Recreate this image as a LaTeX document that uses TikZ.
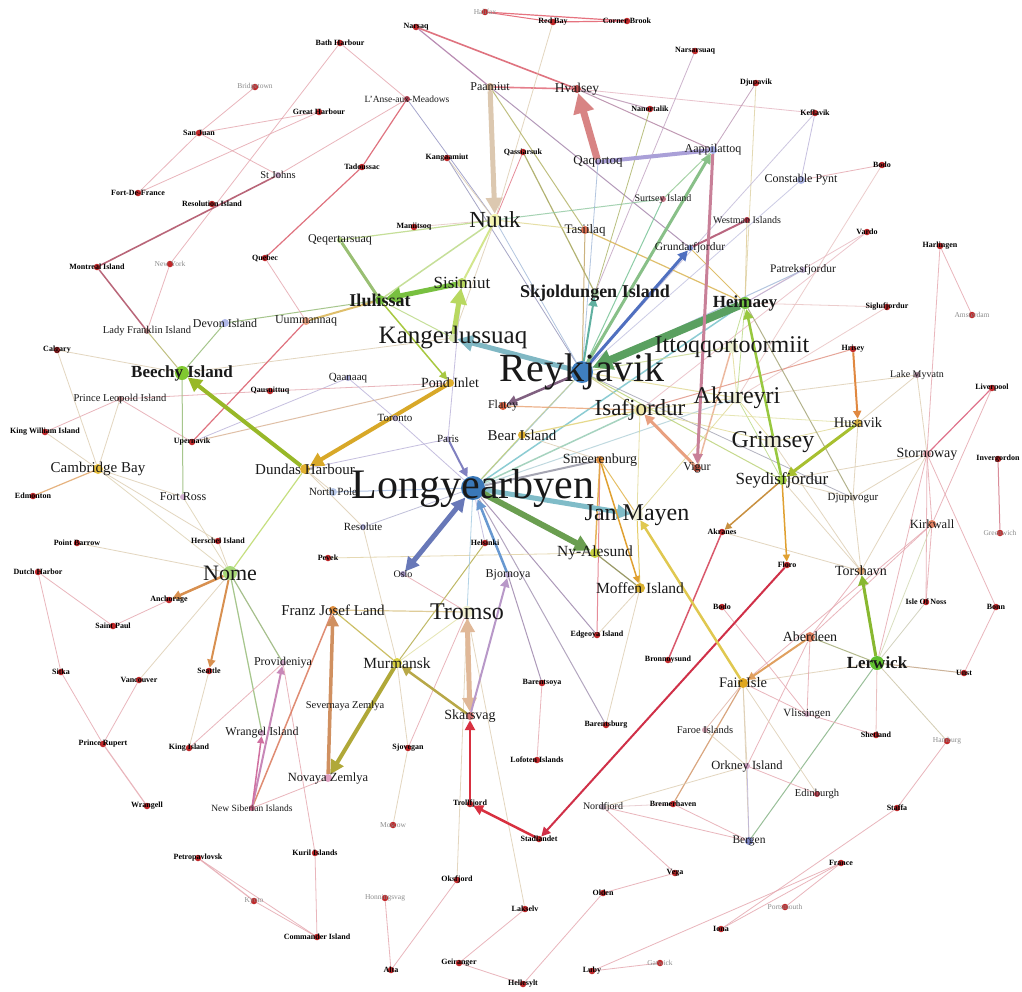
\documentclass[tikz,border=0pt]{standalone}
\usepackage{fontspec}
\setmainfont{Liberation Serif}
\usetikzlibrary{arrows.meta}
\pgfdeclarelayer{bg}
\pgfsetlayers{bg,main}
\tikzset{
 dot/.style={circle,inner sep=0pt,minimum size=#1},
 fs/.style={font=\fontsize{#1}{#1}\selectfont,inner sep=0pt,text=black!90},
 fb/.style={font=\fontsize{#1}{#1}\selectfont\bfseries,inner sep=0pt,text=black!90},
 sl/.style={font=\fontsize{8}{8}\selectfont\bfseries,inner sep=0pt},
 gl/.style={font=\fontsize{7.5}{8}\selectfont,text=black!45,inner sep=0pt},
}
\definecolor{rd}{HTML}{C0282A}
\newcommand\pl[7]{\definecolor{nc}{HTML}{#5}\node[dot=#4pt,fill=nc,label={[#6]center:#7}] (#1) at (#2,#3) {};}
\newcommand\sr[4]{\node[dot=6.5pt,fill=rd,label={[sl]center:#4}] (#1) at (#2,#3) {};}
\newcommand\sg[4]{\node[dot=6.5pt,fill=rd,label={[gl]center:#4}] (#1) at (#2,#3) {};}
\newcommand\edg[4]{\definecolor{ec}{HTML}{#3}\draw[ec,line width=#4pt,opacity=.8] (#1)--(#2);}
\newcommand\arw[5]{\definecolor{ec}{HTML}{#3}\draw[ec,line width=#4pt,-{Triangle[length=#5pt,width=#5pt]}] (#1)--(#2);}
\newcommand\arwb[5]{\definecolor{ec}{HTML}{#3}\draw[ec,line width=#4pt,{Triangle[length=#5pt,width=#5pt]}-{Triangle[length=#5pt,width=#5pt]}] (#1)--(#2);}
\begin{document}
\begin{tikzpicture}[x=1pt,y=-1pt]
\useasboundingbox (0,0) rectangle (1022,991);
% ---------------- nodes
\pl{reyk}{582}{372}{22}{3F7FBF}{fs=40}{Reykjavik}
\pl{lyb}{473}{488}{24}{3A78B8}{fs=42}{Longyearbyen}
\pl{kanger}{453}{338}{8}{D8E8B0}{fs=25}{Kangerlussuaq}
\pl{itto}{732}{347}{12}{ECF0D0}{fs=24}{Ittoqqortoormiit}
\pl{akur}{737}{398}{12}{F0F0D8}{fs=24}{Akureyri}
\pl{grims}{773}{442}{12}{F0F0D8}{fs=24}{Grimsey}
\pl{isaf}{640}{410}{12}{F0E8A8}{fs=23}{Isafjordur}
\pl{janm}{637}{515}{12}{F0F0D8}{fs=24}{Jan Mayen}
\pl{tromso}{467}{612}{12}{F0F0D0}{fs=24}{Tromso}
\pl{nuuk}{495}{220}{12}{F4F4B0}{fs=23}{Nuuk}
\pl{nome}{230}{573}{14}{A8D878}{fs=22}{Nome}
\pl{skjold}{595}{293}{8}{A8C8A0}{fb=18}{Skjoldungen Island}
\pl{ilul}{380}{300}{10}{78C040}{fb=18}{Ilulissat}
\pl{sisim}{462}{283}{10}{B8D860}{fs=17}{Sisimiut}
\pl{heim}{745}{303}{12}{70C040}{fb=17}{Heimaey}
\pl{beechy}{182}{373}{14}{80C830}{fb=17}{Beechy Island}
\pl{lerw}{877}{663}{14}{60C030}{fb=17}{Lerwick}
\pl{seyd}{782}{480}{10}{A0D040}{fs=17}{Seydisfjordur}
\pl{cambay}{98}{469}{10}{E8C040}{fs=15}{Cambridge Bay}
\pl{dundas}{305}{469}{10}{E0B030}{fs=15}{Dundas Harbour}
\pl{franz}{333}{610}{8}{E09040}{fs=15}{Franz Josef Land}
\pl{murm}{397}{663}{10}{D8D040}{fs=15.5}{Murmansk}
\pl{nyal}{595}{553}{10}{C8D040}{fs=15.5}{Ny-Alesund}
\pl{moffen}{640}{588}{10}{D8B030}{fs=15.5}{Moffen Island}
\pl{bear}{522}{435}{8}{E0B030}{fs=15}{Bear Island}
\pl{smeer}{600}{460}{8}{E09040}{fs=14}{Smeerenburg}
\pl{pond}{450}{383}{8}{E0B030}{fs=14}{Pond Inlet}
\pl{skars}{470}{716}{8}{D07070}{fs=14}{Skarsvag}
\pl{husa}{858}{423}{8}{D8B040}{fs=14.5}{Husavik}
\pl{storn}{927}{454}{8}{E0A0A8}{fs=14}{Stornoway}
\pl{torsh}{861}{571}{8}{D8A070}{fs=14}{Torshavn}
\pl{aberd}{810}{637}{10}{E08060}{fs=14}{Aberdeen}
\pl{fair}{743}{683}{10}{E0A820}{fs=14.5}{Fair Isle}
\pl{qaqortoq}{598}{162}{6}{B0A0D8}{fs=13}{Qaqortoq}
\pl{hvalsey}{577}{89}{8}{C05050}{fs=13.5}{Hvalsey}
\pl{tasiilaq}{585}{230}{8}{E07050}{fs=13}{Tasiilaq}
\pl{kirkw}{932}{524}{8}{E08060}{fs=12.5}{Kirkwall}
\pl{orkney}{747}{766}{6}{D0A0C0}{fs=12.5}{Orkney Island}
\pl{novaya}{328}{778}{8}{E0A0C0}{fs=12.5}{Novaya Zemlya}
\pl{paamiut}{490}{87}{8}{D0B090}{fs=12}{Paamiut}
\pl{aappi}{713}{150}{8}{A0A8E0}{fs=12}{Aappilattoq}
\pl{constable}{801}{180}{8}{B0B8E8}{fs=12}{Constable Pynt}
\pl{qeqert}{340}{240}{6}{B0D080}{fs=12}{Qeqertarsuaq}
\pl{devon}{225}{323}{8}{B0B8E8}{fs=12}{Devon Island}
\pl{uumm}{306}{321}{8}{E8A080}{fs=12}{Uummannaq}
\pl{provid}{283}{663}{6}{D0A8C8}{fs=12}{Provideniya}
\pl{wrangel}{262}{733}{6}{D0A8C8}{fs=12}{Wrangel Island}
\pl{bjorn}{508}{575}{6}{C0B0D8}{fs=12}{Bjornoya}
\pl{fortross}{183}{497}{6}{D0B0D0}{fs=12}{Fort Ross}
\pl{vigur}{697}{468}{8}{B05040}{fs=12}{Vigur}
\pl{flatey}{503}{406}{8}{D86040}{fs=12}{Flatey}
\pl{grund}{690}{248}{6}{8090D0}{fs=11.5}{Grundarfjordur}
\pl{patr}{803}{270}{6}{C0B0D0}{fs=11.5}{Patreksfjordur}
\pl{bergen}{749}{841}{8}{8088C8}{fs=11.5}{Bergen}
\pl{resolute}{363}{527}{6}{B0B0D8}{fs=11}{Resolute}
\pl{northpole}{333}{492}{8}{B8C8E8}{fs=11}{North Pole}
\pl{qaanaaq}{348}{378}{6}{A8A8D0}{fs=11}{Qaanaaq}
\pl{toronto}{395}{418}{6}{B0A0C8}{fs=11}{Toronto}
\pl{paris}{448}{439}{6}{C0B8E0}{fs=11}{Paris}
\pl{djupi}{853}{498}{6}{C8C0B0}{fs=11}{Djupivogur}
\pl{vliss}{807}{714}{6}{D0A8C0}{fs=11}{Vlissingen}
\pl{stjohns}{278}{175}{6}{C0A0C0}{fs=10.5}{St Johns}
\pl{ladyf}{147}{331}{6}{B08080}{fs=10.5}{Lady Franklin Island}
\pl{prinl}{120}{399}{6}{B08080}{fs=10.5}{Prince Leopold Island}
\pl{severn}{345}{706}{2}{E0D0D0}{fs=10.5}{Severnaya Zemlya}
\pl{faroe}{705}{730}{6}{D0A0B0}{fs=10.5}{Faroe Islands}
\pl{edinb}{817}{794}{6}{C04050}{fs=10.5}{Edinburgh}
\pl{westman}{747}{220}{6}{B03040}{fs=10}{Westman Islands}
\pl{surtsey}{663}{199}{6}{C07080}{fs=10}{Surtsey Island}
\pl{lakem}{917}{375}{6}{A08090}{fs=10}{Lake Myvatn}
\pl{oslo}{403}{574}{6}{A090C0}{fs=10}{Oslo}
\pl{nordf}{603}{807}{6}{B0A0B0}{fs=10}{Nordfjord}
\pl{lanse}{407}{99}{6}{B04050}{fs=9.5}{L'Anse-aux-Meadows}
\pl{newsib}{252}{808}{6}{C06080}{fs=9.5}{New Siberian Islands}
% small red nodes
\sr{bath}{340}{43}{Bath Harbour}
\sg{bridg}{255}{87}{Bridgetown}
\sr{great}{319}{112}{Great Harbour}
\sr{sanj}{199}{133}{San Juan}
\sr{fdf}{138}{193}{Fort-De-France}
\sr{resol}{212}{204}{Resolution Island}
\sg{halif}{485}{12}{Halifax}
\sr{redbay}{553}{22}{Red Bay}
\sr{corner}{627}{21}{Corner Brook}
\sr{narsaq}{416}{27}{Narsaq}
\sr{nanor}{650}{109}{Nanortalik}
\sr{kanga}{447}{158}{Kangaamiut}
\sr{qassi}{523}{152}{Qassiarsuk}
\sr{tadou}{362}{167}{Tadoussac}
\sr{manii}{414}{227}{Maniitsoq}
\sr{narsa}{695}{51}{Narsarsuaq}
\sr{djupa}{756}{83}{Djupavik}
\sr{kefla}{815}{113}{Keflavik}
\sr{bala}{882}{165}{Bodo}
\sr{vardo}{867}{232}{Vardo}
\sr{harl}{940}{246}{Harlingen}
\sr{montr}{97}{267}{Montreal Island}
\sg{newy}{170}{264}{New York}
\sr{quebec}{265}{258}{Quebec}
\sr{calg}{57}{350}{Calgary}
\sr{qausu}{270}{391}{Qausuittuq}
\sr{kingw}{45}{432}{King William Island}
\sr{upern}{192}{442}{Upernavik}
\sr{edmon}{33}{496}{Edmonton}
\sr{sigl}{887}{307}{Siglufjordur}
\sg{amst}{972}{315}{Amsterdam}
\sr{hrisey}{853}{349}{Hrisey}
\sr{liver}{992}{388}{Liverpool}
\sr{inver}{998}{459}{Invergordon}
\sr{ptbar}{77}{543}{Point Barrow}
\sr{hersch}{218}{541}{Herschel Island}
\sr{dutch}{38}{572}{Dutch Harbor}
\sr{ancho}{169}{600}{Anchorage}
\sr{stpaul}{113}{626}{Saint Paul}
\sr{pevek}{328}{558}{Pevek}
\sr{sitka}{61}{672}{Sitka}
\sr{seatt}{209}{671}{Seattle}
\sr{vanco}{139}{680}{Vancouver}
\sr{prupert}{103}{744}{Prince Rupert}
\sr{kingisl}{189}{748}{King Island}
\sr{helsinki}{485}{543}{Helsinki}
\sr{edgeoya}{597}{635}{Edgeoya Island}
\sr{bronn}{668}{660}{Bronnoysund}
\sr{barentsoya}{542}{683}{Barentsoya}
\sr{barentsburg}{606}{725}{Barentsburg}
\sr{sjov}{408}{748}{Sjovegan}
\sr{akranes}{722}{532}{Akranes}
\sg{green}{1000}{533}{Greenwich}
\sr{floro}{787}{565}{Floro}
\sr{bodo}{722}{607}{Bodo}
\sr{noss}{926}{602}{Isle Of Noss}
\sr{bonn}{996}{607}{Bonn}
\sr{unst}{964}{673}{Unst}
\sr{shetl}{876}{735}{Shetland}
\sg{hamb}{947}{741}{Hamburg}
\sr{wrangell}{147}{806}{Wrangell}
\sr{petro}{198}{858}{Petropavlovsk}
\sr{kuril}{315}{853}{Kuril Islands}
\sg{kyoto}{254}{901}{Kyoto}
\sr{command}{317}{937}{Commander Island}
\sr{lofoten}{537}{760}{Lofoten Islands}
\sr{troll}{470}{804}{Trollfjord}
\sr{bremer}{673}{804}{Bremerhaven}
\sr{stad}{539}{839}{Stadlandet}
\sg{moscow}{393}{825}{Moscow}
\sr{oksf}{457}{880}{Oksfjord}
\sg{honn}{385}{898}{Honningsvag}
\sr{olden}{603}{893}{Olden}
\sr{vega}{675}{873}{Vega}
\sr{laks}{525}{909}{Lakselv}
\sr{alta}{391}{970}{Alta}
\sr{geir}{459}{963}{Geiranger}
\sr{helle}{523}{984}{Hellesylt}
\sr{luby}{592}{971}{Luby}
\sg{gatw}{660}{963}{Gatwick}
\sr{staffa}{897}{808}{Staffa}
\sr{france}{841}{863}{France}
\sg{portsm}{785}{907}{Portsmouth}
\sr{iona}{721}{929}{Iona}
% ---------------- edges
\begin{pgfonlayer}{bg}
\fill[white] (0,0) rectangle (1022,991);
% thin edges
\edg{bath}{newy}{E4A4AC}{0.8}
\edg{bath}{lanse}{E4A4AC}{0.8}
\edg{bridg}{sanj}{E4A4AC}{0.8}
\edg{sanj}{great}{E4A4AC}{0.8}
\edg{sanj}{fdf}{E4A4AC}{0.8}
\edg{sanj}{stjohns}{E4A4AC}{0.8}
\edg{great}{fdf}{E4A4AC}{0.8}
\edg{stjohns}{lanse}{E4A4AC}{0.8}
\edg{stjohns}{montr}{A84058}{1.6}
\edg{montr}{ladyf}{A84058}{1.5}
\edg{newy}{ladyf}{E4A4AC}{0.8}
\edg{lanse}{tadou}{D85060}{1.2}
\edg{tadou}{quebec}{D85060}{1.2}
\edg{lanse}{nuuk}{9090C0}{0.8}
\edg{halif}{corner}{E05060}{1.2}
\edg{halif}{redbay}{E05060}{1}
\edg{redbay}{corner}{E05060}{1.2}
\edg{narsaq}{hvalsey}{D85060}{1.6}
\edg{narsaq}{paamiut}{A870A0}{1.2}
\edg{paamiut}{hvalsey}{E06070}{1.6}
\edg{redbay}{nuuk}{DCCCB0}{0.8}
\edg{hvalsey}{nanor}{B890B0}{1}
\edg{hvalsey}{kefla}{E4B4C0}{0.8}
\edg{hvalsey}{aappi}{B080A0}{1}
\edg{paamiut}{tasiilaq}{B0B060}{1}
\edg{paamiut}{grund}{A080A8}{1}
\edg{qassi}{skjold}{A0A050}{1.2}
\edg{qassi}{nuuk}{E07080}{0.8}
\edg{kanga}{nuuk}{DCCCB0}{0.8}
\edg{kanga}{reyk}{9090B8}{0.8}
\edg{manii}{nuuk}{E4C4C0}{0.8}
\edg{nanor}{skjold}{A8B060}{0.8}
\edg{narsa}{skjold}{C0A0C0}{0.8}
\edg{djupa}{aappi}{B890B0}{0.8}
\edg{djupa}{heim}{DCD0A0}{0.8}
\edg{kefla}{constable}{B8B0D8}{0.8}
\edg{kefla}{reyk}{C0B8D8}{0.8}
\edg{constable}{bala}{E4A4AC}{0.8}
\edg{constable}{reyk}{C0C0E0}{0.8}
\edg{bala}{akur}{E8C0C0}{0.8}
\edg{westman}{grund}{A84060}{2}
\edg{westman}{heim}{DCC890}{0.8}
\edg{vardo}{isaf}{E8B8C0}{0.8}
\edg{vardo}{heim}{E8B8C0}{0.8}
\edg{harl}{amst}{E4A4AC}{0.8}
\edg{harl}{storn}{E4A4AC}{0.8}
\edg{sigl}{akur}{E8C0C0}{0.8}
\edg{sigl}{heim}{E8C0C0}{0.8}
\edg{hrisey}{isaf}{E09080}{1}
\edg{lakem}{akur}{DCCCB0}{0.8}
\edg{lakem}{storn}{DCCCB0}{0.8}
\edg{liver}{storn}{D85070}{1.2}
\edg{liver}{kirkw}{E4A4AC}{0.8}
\edg{inver}{green}{D07080}{1}
\edg{storn}{kirkw}{E4A4AC}{0.8}
\edg{storn}{torsh}{DCCCB0}{0.8}
\edg{storn}{lerw}{E4A4AC}{0.8}
\edg{storn}{noss}{E4A4AC}{0.8}
\edg{storn}{djupi}{DCCCB0}{0.8}
\edg{storn}{seyd}{DCCCB0}{0.8}
\edg{storn}{bonn}{E4A4AC}{0.8}
\edg{kirkw}{noss}{E4A4AC}{0.8}
\edg{kirkw}{lerw}{D0D8B0}{0.8}
\edg{kirkw}{aberd}{E4A4AC}{0.8}
\edg{kirkw}{fair}{E4A4AC}{0.8}
\edg{bonn}{unst}{E4A4AC}{0.8}
\edg{unst}{lerw}{C0A080}{1}
\edg{lerw}{aberd}{A0A870}{1}
\edg{lerw}{fair}{DCCCB0}{0.8}
\edg{lerw}{shetl}{E4B0B0}{0.8}
\edg{lerw}{hamb}{C8C0A0}{0.8}
\edg{lerw}{noss}{C8C8B0}{0.8}
\edg{lerw}{bergen}{80B080}{1}
\edg{hamb}{staffa}{E4A4AC}{0.8}
\edg{staffa}{iona}{E4A4AC}{0.8}
\edg{france}{iona}{E4A4AC}{0.8}
\edg{france}{portsm}{E4A4AC}{0.8}
\edg{luby}{gatw}{E4A4AC}{0.8}
\edg{luby}{france}{E4A4AC}{0.8}
\edg{olden}{vega}{E4A4AC}{0.8}
\edg{olden}{helle}{E4A4AC}{0.8}
\edg{vega}{nordf}{E4A4AC}{0.8}
\edg{nordf}{bremer}{E4C4C8}{0.8}
\edg{bremer}{fair}{D09060}{1.2}
\edg{laks}{geir}{E4A4AC}{0.8}
\edg{laks}{tromso}{DCCCB0}{0.8}
\edg{oksf}{alta}{E4A4AC}{0.8}
\edg{oksf}{tromso}{DCCCB0}{0.8}
\edg{honn}{alta}{E4A4AC}{0.8}
\edg{geir}{helle}{E4A4AC}{0.8}
\edg{moscow}{sjov}{DCCCB0}{0.8}
\edg{sjov}{murm}{DCCCB0}{0.8}
\edg{tromso}{sjov}{E4A4AC}{0.8}
\edg{lofoten}{barentsoya}{E4A4AC}{0.8}
\edg{lyb}{barentsburg}{A090B0}{1}
\edg{lyb}{edgeoya}{9880A8}{1}
\edg{bjorn}{barentsoya}{9880A8}{1}
\edg{edgeoya}{smeer}{E07080}{1}
\edg{helsinki}{murm}{B0A840}{1}
\edg{pevek}{nyal}{E0D0A0}{0.8}
\edg{franz}{tromso}{D8C080}{1.2}
\edg{murm}{franz}{C0B040}{1.2}
\edg{murm}{tromso}{E0E0A0}{0.8}
\edg{murm}{resolute}{DCCCB0}{0.8}
\edg{oslo}{tromso}{E4A4AC}{0.8}
\edg{tromso}{lyb}{A0C8E0}{0.8}
\edg{nome}{dundas}{B8D860}{1.2}
\edg{nome}{hersch}{DCCCB0}{0.8}
\edg{nome}{ptbar}{DCCCB0}{0.8}
\edg{nome}{cambay}{DCD0B0}{0.8}
\edg{nome}{provid}{90B070}{1.2}
\edg{nome}{wrangel}{90B870}{1.2}
\edg{nome}{vanco}{DCCCB0}{0.8}
\edg{nome}{fortross}{DCD0B0}{0.8}
\edg{dutch}{stpaul}{E4A4AC}{0.8}
\edg{stpaul}{ancho}{E4A4AC}{0.8}
\edg{dutch}{sitka}{E4A4AC}{0.8}
\edg{sitka}{prupert}{E4A4AC}{0.8}
\edg{vanco}{prupert}{E4A4AC}{0.8}
\edg{prupert}{wrangell}{E4A4AC}{1.2}
\edg{kingisl}{provid}{E4A4AC}{0.8}
\edg{kingisl}{seatt}{DCCCB0}{0.8}
\edg{provid}{kuril}{E4A4AC}{0.8}
\edg{kuril}{command}{E4A4AC}{0.8}
\edg{petro}{kyoto}{E4A4AC}{1.2}
\edg{kyoto}{command}{E4A4AC}{0.8}
\edg{petro}{command}{E4A4AC}{0.8}
\edg{newsib}{franz}{D87050}{1.5}
\edg{newsib}{novaya}{E4A4AC}{0.8}
\edg{dundas}{northpole}{DCCCB0}{0.8}
\edg{dundas}{resolute}{DCCCB0}{0.8}
\edg{dundas}{paris}{B8B0D8}{0.8}
\edg{upern}{qaanaaq}{B8B0D8}{0.8}
\edg{upern}{pond}{D8B090}{1}
\edg{upern}{prinl}{E4A4AC}{0.8}
\edg{qausu}{pond}{E4A4AC}{0.8}
\edg{qausu}{prinl}{E4A4AC}{0.8}
\edg{prinl}{kingw}{E4A4AC}{0.8}
\edg{prinl}{cambay}{DCCCB0}{0.8}
\edg{calg}{beechy}{DCCCB0}{0.8}
\edg{calg}{cambay}{DCCCB0}{0.8}
\edg{kingw}{cambay}{DCCCB0}{0.8}
\edg{cambay}{edmon}{E0A060}{1.2}
\edg{cambay}{fortross}{DCCCB0}{0.8}
\edg{cambay}{hersch}{DCCCB0}{0.8}
\edg{beechy}{fortross}{90B870}{1}
\edg{devon}{beechy}{90B870}{1}
\edg{ladyf}{beechy}{B0B060}{1}
\edg{beechy}{kanger}{DCCCB0}{0.8}
\edg{devon}{ilul}{90B870}{1}
\edg{uumm}{ilul}{D8B048}{2}
\edg{uumm}{quebec}{E4A4AC}{0.8}
\edg{uumm}{upern}{D85060}{1.2}
\edg{qaanaaq}{toronto}{B8B0D8}{0.8}
\edg{toronto}{lyb}{B8B0D8}{0.8}
\edg{qeqert}{ilul}{80B050}{3}
\edg{qeqert}{nuuk}{B8D880}{1.2}
\edg{ilul}{nuuk}{B8D880}{1.5}
\edg{sisim}{nuuk}{C8E070}{2}
\edg{sisim}{paris}{B8B0D8}{0.8}
\edg{kanger}{ilul}{B8D880}{1}
\edg{kanger}{nuuk}{DCCCB0}{0.8}
\edg{nuuk}{tasiilaq}{E0D890}{1}
\edg{nuuk}{surtsey}{90C8A0}{1}
\edg{nuuk}{reyk}{A0B8D8}{0.8}
\edg{tasiilaq}{heim}{D8B048}{1.2}
\edg{surtsey}{reyk}{70C090}{1}
\edg{surtsey}{aappi}{90C890}{1}
\edg{grund}{heim}{D8B048}{1}
\edg{qaqortoq}{reyk}{A0B8D8}{0.8}
\edg{reyk}{lyb}{90C0D0}{1.2}
\edg{lyb}{bear}{C8D070}{1}
\edg{lyb}{smeer}{9090A0}{2}
\edg{lyb}{isaf}{90C8B0}{1.5}
\edg{lyb}{heim}{70C0C8}{1.5}
\edg{lyb}{akur}{B0D0D8}{1}
\edg{lyb}{resolute}{B0B0D0}{0.8}
\edg{lyb}{northpole}{A0B8E0}{1}
\edg{lyb}{helsinki}{B8B0D8}{0.8}
\edg{reyk}{isaf}{D0C880}{1}
\edg{reyk}{akur}{E0D890}{1}
\edg{reyk}{itto}{C8D890}{1}
\edg{reyk}{tasiilaq}{C0A060}{1}
\edg{reyk}{patr}{A0B8D8}{1}
\edg{reyk}{djupi}{A0A0B0}{0.8}
\edg{reyk}{seyd}{B8D070}{1}
\edg{reyk}{bear}{D0D090}{0.8}
\edg{isaf}{bear}{E0D070}{1.2}
\edg{isaf}{flatey}{E8A070}{1.2}
\edg{isaf}{akur}{E0D890}{0.8}
\edg{isaf}{grims}{E0D890}{0.8}
\edg{isaf}{janm}{E0D890}{0.8}
\edg{janm}{smeer}{E0B040}{1}
\edg{janm}{moffen}{E0C040}{1}
\edg{janm}{akur}{E0D890}{0.8}
\edg{moffen}{nyal}{808040}{1.2}
\edg{moffen}{edgeoya}{DCCCB0}{0.8}
\edg{moffen}{barentsburg}{DCCCB0}{0.8}
\edg{bear}{smeer}{DCCCB0}{0.8}
\edg{smeer}{nyal}{E0A030}{1.5}
\edg{akur}{grims}{E0D890}{0.8}
\edg{akur}{heim}{B8D880}{0.8}
\edg{akur}{seyd}{B8D880}{0.8}
\edg{itto}{akur}{E0D890}{0.8}
\edg{itto}{vigur}{E8A888}{1.5}
\edg{grims}{seyd}{C8E070}{1}
\edg{grims}{husa}{E0D890}{0.8}
\edg{grims}{torsh}{DCCCB0}{0.8}
\edg{heim}{patr}{B8B0D8}{0.8}
\edg{heim}{itto}{B8D880}{0.8}
\edg{heim}{djupi}{A0A070}{1}
\edg{husa}{djupi}{DCCCB0}{0.8}
\edg{husa}{isaf}{E0E0A0}{0.8}
\edg{husa}{lakem}{DCCCB0}{0.8}
\edg{seyd}{djupi}{DCCCB0}{0.8}
\edg{seyd}{torsh}{DCCCB0}{0.8}
\edg{djupi}{torsh}{DCCCB0}{0.8}
\edg{akranes}{torsh}{DCCCB0}{0.8}
\edg{torsh}{aberd}{E4A4AC}{0.8}
\edg{aberd}{vliss}{E4A4AC}{0.8}
\edg{aberd}{orkney}{E4A4AC}{0.8}
\edg{fair}{faroe}{E0B0A0}{0.8}
\edg{fair}{orkney}{DCCCB0}{0.8}
\edg{fair}{edinb}{DCCCB0}{0.8}
\edg{fair}{bergen}{DCCCB0}{0.8}
\edg{fair}{vliss}{E4A4AC}{0.8}
\edg{bodo}{vliss}{E4A4AC}{0.8}
\edg{vliss}{shetl}{E4A4AC}{0.8}
\edg{orkney}{edinb}{E4A4AC}{0.8}
\edg{orkney}{bergen}{B8B0D8}{0.8}
\edg{orkney}{nordf}{DCCCB0}{0.8}
\edg{orkney}{faroe}{DCCCB0}{0.8}
\edg{bergen}{nordf}{E4A4AC}{0.8}
\edg{bergen}{bremer}{E4A4AC}{0.8}
\edg{akranes}{bronn}{D03048}{1.5}
% thick / arrowed edges
\arw{paamiut}{nuuk}{DCC8B0}{5}{16}
\arw{qaqortoq}{hvalsey}{D88484}{7}{20}
\draw[line width=4pt,color={rgb,255:red,170;green,160;blue,216}] (qaqortoq)--(aappi);
\arw{sisim}{ilul}{78C040}{5}{16}
\arw{kanger}{sisim}{B8D860}{5}{16}
\arw{reyk}{kanger}{80B8C4}{5}{16}
\arw{heim}{reyk}{5AA060}{8}{20}
\arw{lyb}{janm}{80BCC8}{5}{14}
\arw{lyb}{nyal}{6A9E50}{6}{16}
\arwb{lyb}{oslo}{6878B8}{5}{14}
\arw{bjorn}{lyb}{6898D0}{2.5}{10}
\arw{paris}{lyb}{8080C0}{2}{9}
\arw{dundas}{beechy}{98B828}{4}{14}
\arw{pond}{dundas}{D8A828}{4}{14}
\arw{reyk}{skjold}{60B0A0}{2}{9}
\arw{reyk}{flatey}{806080}{2.5}{10}
\arw{reyk}{grund}{5070C0}{3}{10}
\arw{reyk}{aappi}{88C088}{3}{10}
\arw{aappi}{vigur}{C88098}{3}{10}
\arw{vigur}{isaf}{E8A080}{3}{10}
\arw{husa}{seyd}{A8C030}{3}{10}
\arw{seyd}{heim}{98C840}{2.5}{10}
\arw{hrisey}{husa}{E08840}{2}{8}
\arw{lerw}{torsh}{88B830}{3}{10}
\arw{troll}{skars}{D83040}{2.5}{10}
\arw{stad}{troll}{D83040}{2.5}{10}
\arw{floro}{stad}{D03048}{2}{9}
\arw{skars}{murm}{B8A848}{2.5}{10}
\arwb{tromso}{skars}{E0B898}{5}{14}
\arw{skars}{bjorn}{B898C8}{2}{9}
\arw{murm}{novaya}{B0A838}{4}{14}
\arw{novaya}{franz}{D09060}{3.5}{12}
\arw{newsib}{provid}{C888B8}{2}{8}
\arw{newsib}{wrangel}{D070A0}{1.5}{7}
\arw{nome}{ancho}{D89050}{2.5}{9}
\arw{nome}{seatt}{D89050}{2}{8}
\arw{ilul}{pond}{A8C840}{1.5}{8}
\arw{seyd}{floro}{E0A030}{1.5}{7}
\arw{seyd}{akranes}{C89040}{1.5}{7}
\arw{aberd}{fair}{E0A060}{2}{8}
\arw{fair}{janm}{E0C850}{2.5}{9}
\arw{smeer}{moffen}{E0A030}{1.5}{7}
\end{pgfonlayer}
\end{tikzpicture}
\end{document}
